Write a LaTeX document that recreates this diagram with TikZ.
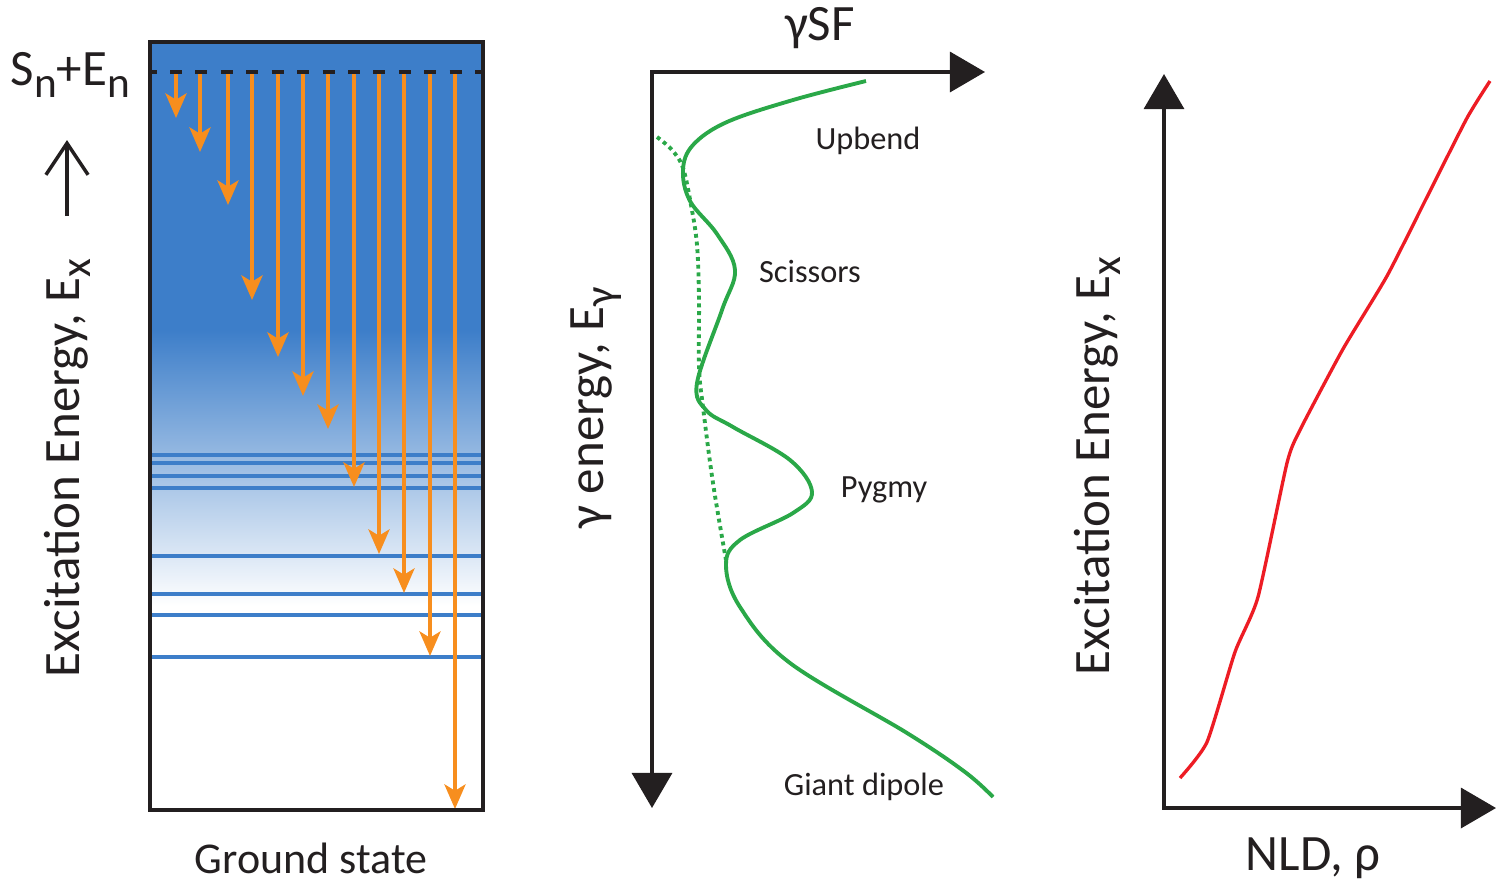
\documentclass[tikz,border=0pt]{standalone}
\usepackage{fontspec}
\setmainfont{Carlito}
\usepackage{graphicx}
\usepackage{tikz}
\usetikzlibrary{arrows.meta}
\definecolor{levelblue}{RGB}{61,126,201}
\definecolor{fadeblue}{RGB}{140,180,226}
\definecolor{decayorange}{RGB}{247,142,30}
\definecolor{strengthgreen}{RGB}{42,168,72}
\definecolor{densityred}{RGB}{237,28,36}
\definecolor{inkblack}{RGB}{35,31,32}
\newcommand{\lowsub}[1]{\raisebox{-0.22em}{\scalebox{0.85}{#1}}}

\begin{document}
\begin{tikzpicture}[x=0.01cm,y=-0.01cm]
            \tikzstyle{big}=[font=\fontsize{14.5}{16}\selectfont, text=inkblack, inner sep=0pt]
            \tikzstyle{small}=[font=\fontsize{9.2}{11}\selectfont, text=inkblack, inner sep=0pt]
            \tikzstyle{level}=[levelblue, line width=1pt]
            \tikzstyle{decay}=[decayorange, line width=1.05pt,
            -{Stealth[length=7pt,width=6pt,inset=1.8pt]}]
            \tikzstyle{axis}=[inkblack, line width=1pt, line cap=rect,
            -{Triangle[length=10pt,width=11.4pt]}]
            \tikzstyle{strength}=[strengthgreen, line width=1.1pt]
            \useasboundingbox (0,0) rectangle (1496,884);
            % level scheme
            \fill[levelblue] (150,42) rectangle (483,331);
            \shade[top color=levelblue, middle color=fadeblue, bottom color=white]
                (150,330) rectangle (483,606);
            \foreach \y in {455,463,476,488,556,594,615,657}
                \draw[level] (151,\y) -- (482,\y);
            \foreach \x/\y in {176/118,200/152,228/205,252/300,278/357,303/396,
                328/429,354/487,379/554,404/593,430/656,455/809}
                \draw[decay] (\x,74) -- (\x,\y);
            \draw[inkblack, line width=1.1pt, dash pattern=on 3.4pt off 3.83pt,
                dash phase=2.1pt] (152,72) -- (482,72);
            \draw[inkblack, line width=1pt] (150,42) rectangle (483,810);
            \node[big, anchor=west] (sn) at (10,75) {S\lowsub{n}+E\lowsub{n}};
            \coordinate (up0) at (67,216);
            \coordinate (up1) at (67,140);
            \draw[inkblack, line width=1pt, -{Straight Barb[length=9pt,width=12pt]}] (up0) -- (up1);
            \node[big, rotate=90] (exl) at (67,468) {Excitation Energy, E\lowsub{x}};
            \node[big, font=\fontsize{12.5}{14}\selectfont] (gs) at (311,858) {Ground state};
            % strength function
            \coordinate (o1) at (652,72);
            \coordinate (sfx) at (985,72);
            \coordinate (sfy) at (652,808);
            \draw[axis] (o1) -- (sfx);
            \draw[axis] (o1) -- (sfy);
            \node[big] (ysf) at (820,28) {γSF};
            \node[big, rotate=90] (eg) at (596,408) {γ energy, E\lowsub{γ}};
            \draw[strength] plot[smooth, tension=0.6] coordinates {(866,81) (793,100)
                (727,122) (693,145) (683,170) (690,201) (717,234) (735,270) (722,310)
                (697,383) (706,410) (733,427) (790,460) (812,492) (793,513) (740,540)
                (726,565) (740,607) (790,663) (907,733) (965,772) (993,797)};
            \draw[strength, dash pattern=on 1.1pt off 1.1pt] plot[smooth, tension=0.6]
                coordinates {(657,137) (672,150) (683,168) (691,205) (697,245) (699,300)
                (699,367) (703,407) (713,483) (726,560)};
            \node[small] (ub) at (868,141) {Upbend};
            \node[small] (sc) at (810,271) {Scissors};
            \node[small] (pg) at (884,490) {Pygmy};
            \node[small] (gd) at (864,787) {Giant dipole};
            % level density
            \coordinate (o2) at (1164,808);
            \coordinate (ldy) at (1164,74);
            \coordinate (ldx) at (1496,808);
            \draw[axis] (o2) -- (ldy);
            \draw[axis] (o2) -- (ldx);
            \node[big, rotate=90] (exr) at (1097,466) {Excitation Energy, E\lowsub{x}};
            \node[big] (nld) at (1313,858) {NLD, ρ};
            \draw[densityred, line width=0.95pt] plot[smooth, tension=0.35] coordinates {
                (1180,778) (1207,742) (1235,652) (1258,597) (1287,463) (1300,430)
                (1343,349) (1387,276) (1427,197) (1467,118) (1490,81)};
        \end{tikzpicture}
\end{document}
